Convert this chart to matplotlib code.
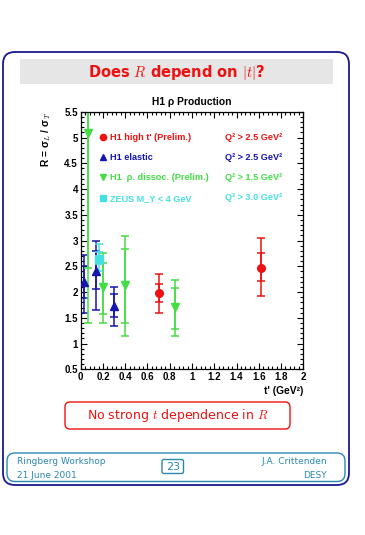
import matplotlib
matplotlib.use('Agg')
import matplotlib.pyplot as plt
import matplotlib.patches as patches
from matplotlib.lines import Line2D
from matplotlib.ticker import MultipleLocator

plt.rcParams['mathtext.fontset'] = 'cm'

# data: value, inner (stat) error range, outer (total) error range
red_x = [0.707, 1.617]
red_y = [1.98, 2.47]
red_in_lo = [1.81, 2.21]
red_in_hi = [2.15, 2.76]
red_out_lo = [1.60, 1.92]
red_out_hi = [2.36, 3.05]

blue_x = [0.033, 0.135, 0.296]
blue_y = [2.19, 2.41, 1.73]
blue_in_lo = [1.89, 2.06, 1.51]
blue_in_hi = [2.51, 2.79, 1.96]
blue_out_lo = [1.59, 1.65, 1.35]
blue_out_hi = [2.72, 3.00, 2.09]

green_x = [0.062, 0.198, 0.398, 0.847]
green_y = [5.08, 2.10, 2.13, 1.71]
green_in_lo = [2.46, 1.57, 1.40, 1.29]
green_in_hi = [6.00, 2.56, 2.83, 2.08]
green_out_lo = [1.40, 1.40, 1.15, 1.15]
green_out_hi = [6.50, 2.76, 3.08, 2.24]

cyan_x = [0.165]
cyan_y = [2.65]
cyan_in_lo = [2.55]
cyan_in_hi = [2.78]
cyan_out_lo = [2.40]
cyan_out_hi = [2.94]

labels = ["H1 high t' (Prelim.)", "H1 elastic", "H1  \u03c1. dissoc. (Prelim.)", "ZEUS M_Y < 4 GeV"]
q2_labels = ["Q\u00b2 > 2.5 GeV\u00b2", "Q\u00b2 > 2.5 GeV\u00b2", "Q\u00b2 > 1.5 GeV\u00b2", "Q\u00b2 > 3.0 GeV\u00b2"]

RED = '#ee1111'
BLUE = '#1515b0'
GREEN = '#44dd44'
CYAN = '#44e0e0'
NAVY = '#1a1a8c'
TEAL = '#2a88b0'

fig = plt.figure(figsize=(3.65, 5.35), dpi=100)

# slide decorations in pixel coordinates
bg = fig.add_axes([0, 0, 1, 1])
bg.set_xlim(0, 365)
bg.set_ylim(535, 0)
bg.axis('off')

bg.add_patch(patches.FancyBboxPatch((3, 52), 346, 433,
             boxstyle="round,pad=0,rounding_size=12",
             lw=1.3, edgecolor=NAVY, facecolor='white'))
bg.add_patch(patches.Rectangle((20, 59), 313, 25, facecolor='#e6e6e6', edgecolor='none'))
bg.text(176.5, 72, "Does $R$ depend on $|t|$?", color=RED, fontsize=10.5,
        weight='bold', ha='center', va='center')

bg.add_patch(patches.FancyBboxPatch((65, 402), 225, 27,
             boxstyle="round,pad=0,rounding_size=5",
             lw=1.0, edgecolor=RED, facecolor='white'))
bg.text(177.5, 415.5, "No strong $t$ dependence in $R$", color=RED, fontsize=9,
        ha='center', va='center')

bg.add_patch(patches.FancyBboxPatch((7, 453), 338, 28.5,
             boxstyle="round,pad=0,rounding_size=8",
             lw=1.0, edgecolor=TEAL, facecolor='white'))
bg.text(17, 462, "Ringberg Workshop", color=TEAL, fontsize=6.5, ha='left', va='center')
bg.text(17, 475, "21 June 2001", color=TEAL, fontsize=6.5, ha='left', va='center')
bg.text(327, 462, "J.A. Crittenden", color=TEAL, fontsize=6.5, ha='right', va='center')
bg.text(327, 475, "DESY", color=TEAL, fontsize=6.5, ha='right', va='center')
bg.add_patch(patches.FancyBboxPatch((162, 459.5), 21.5, 14,
             boxstyle="round,pad=0,rounding_size=2",
             lw=1.0, edgecolor=TEAL, facecolor='white'))
bg.text(172.7, 467, "23", color=TEAL, fontsize=8, ha='center', va='center')

# the plot itself
ax = fig.add_axes([80.7 / 365, 1 - 369.3 / 535, 222.6 / 365, 257.5 / 535])
ax.set_xlim(0, 2)
ax.set_ylim(0.5, 5.5)

series = [
    (red_x, red_y, red_in_lo, red_in_hi, red_out_lo, red_out_hi, RED, 'o'),
    (blue_x, blue_y, blue_in_lo, blue_in_hi, blue_out_lo, blue_out_hi, BLUE, '^'),
    (green_x, green_y, green_in_lo, green_in_hi, green_out_lo, green_out_hi, GREEN, 'v'),
    (cyan_x, cyan_y, cyan_in_lo, cyan_in_hi, cyan_out_lo, cyan_out_hi, CYAN, 's'),
]
handles = []
for x, y, ilo, ihi, olo, ohi, c, m in series:
    out_err = [[yy - lo for yy, lo in zip(y, olo)], [hi - yy for yy, hi in zip(y, ohi)]]
    in_err = [[yy - lo for yy, lo in zip(y, ilo)], [hi - yy for yy, hi in zip(y, ihi)]]
    ax.errorbar(x, y, yerr=out_err, fmt='none', ecolor=c, elinewidth=1.1, capsize=3, capthick=1.1)
    ax.errorbar(x, y, yerr=in_err, fmt='none', ecolor=c, elinewidth=1.1, capsize=3, capthick=1.1)
    ax.plot(x, y, m, color=c, markersize=5.5, linestyle='none', zorder=5)
    handles.append(Line2D([], [], marker=m, color=c, linestyle='none', markersize=4.5))

leg = ax.legend(handles, labels, loc='upper left', bbox_to_anchor=(0.087, 0.918),
                frameon=False, handlelength=0.6, handletextpad=0.5, labelspacing=1.23,
                borderpad=0, borderaxespad=0,
                prop={'family': 'Liberation Sans', 'weight': 'bold', 'size': 6.6})
for txt, h in zip(leg.get_texts(), handles):
    txt.set_color(h.get_color())

q2_colors = [RED, BLUE, GREEN, CYAN]
q2_rows = [0.899, 0.821, 0.744, 0.666]
for s, c, r in zip(q2_labels, q2_colors, q2_rows):
    ax.text(0.648, r, s, transform=ax.transAxes, color=c, fontsize=6.6,
            family='Liberation Sans', weight='bold', ha='left', va='center')

ax.xaxis.set_major_locator(MultipleLocator(0.2))
ax.xaxis.set_minor_locator(MultipleLocator(0.04))
ax.yaxis.set_major_locator(MultipleLocator(0.5))
ax.yaxis.set_minor_locator(MultipleLocator(0.1))
ax.set_xticks([0, 0.2, 0.4, 0.6, 0.8, 1, 1.2, 1.4, 1.6, 1.8, 2])
ax.set_xticklabels(['0', '0.2', '0.4', '0.6', '0.8', '1', '1.2', '1.4', '1.6', '1.8', '2'])
ax.set_yticks([0.5, 1, 1.5, 2, 2.5, 3, 3.5, 4, 4.5, 5, 5.5])
ax.set_yticklabels(['0.5', '1', '1.5', '2', '2.5', '3', '3.5', '4', '4.5', '5', '5.5'])
ax.tick_params(which='both', direction='in', top=True, right=True, width=0.8)
ax.tick_params(which='major', length=4.3, pad=2)
ax.tick_params(which='minor', length=2.2)
for lab in ax.get_xticklabels() + ax.get_yticklabels():
    lab.set_family('Liberation Sans')
    lab.set_weight('bold')
    lab.set_fontsize(7)
for sp in ax.spines.values():
    sp.set_linewidth(0.9)

ax.set_title("H1 \u03c1 Production", fontsize=7.4, weight='bold', family='Liberation Sans', pad=5)
ax.set_xlabel("t' (GeV\u00b2)", fontsize=7.4, weight='bold', family='Liberation Sans', loc='right', labelpad=3)
ax.set_ylabel("R = \u03c3$_L$ / \u03c3$_T$", fontsize=7.4, weight='bold', family='Liberation Sans', loc='top', labelpad=8)

fig.savefig('out.png', dpi=100)
